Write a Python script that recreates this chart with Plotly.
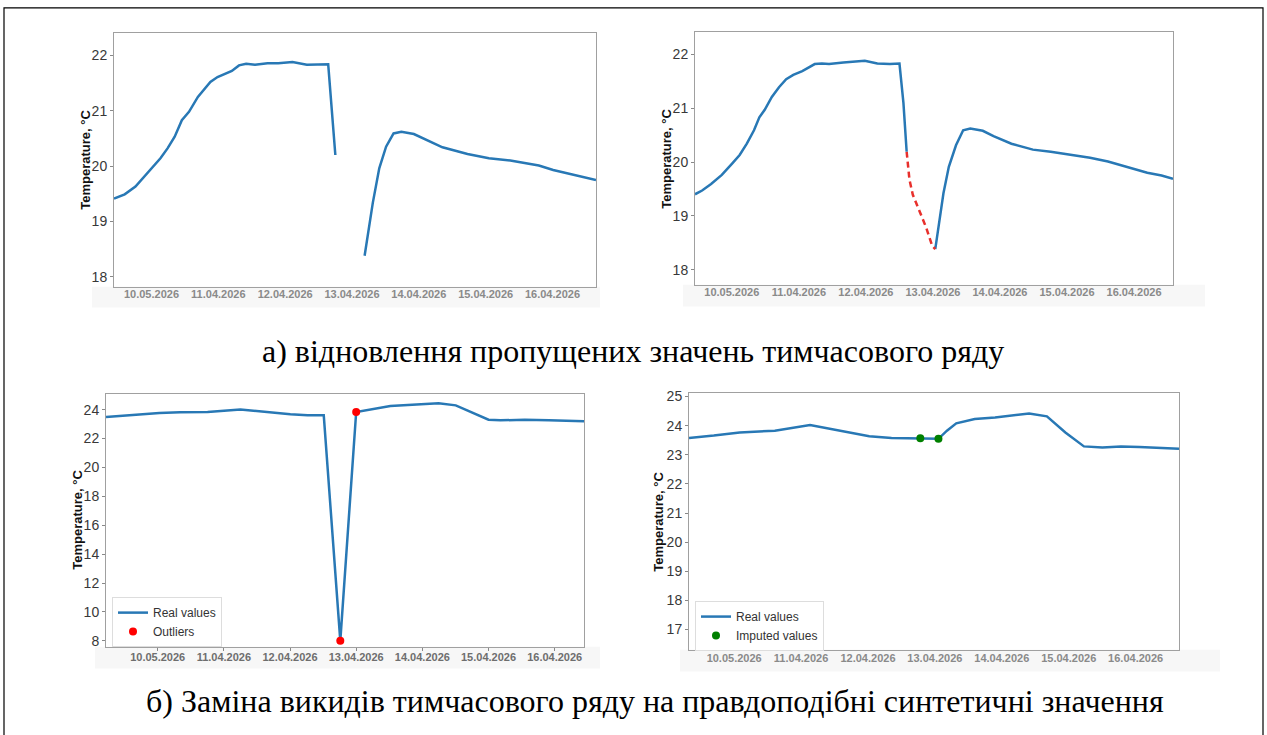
import plotly.graph_objects as go

W, H = 1267, 735

# ---------------- data ----------------
tick_days = [0, 1, 2, 3, 4, 5, 6]
tick_labels = ["10.05.2026", "11.04.2026", "12.04.2026", "13.04.2026",
               "14.04.2026", "15.04.2026", "16.04.2026"]

# a) left: series with missing values (gap = None)
gap_days = [-0.561, -0.401, -0.240, -0.080, 0.134, 0.240, 0.347, 0.454, 0.561, 0.694,
            0.881, 0.988, 1.095, 1.202, 1.309, 1.416, 1.549, 1.736, 1.896, 2.110,
            2.324, 2.484, 2.644, 2.751, None,
            3.189, 3.312, 3.408, 3.510, 3.622, 3.739, 3.926, 4.087, 4.354, 4.728,
            5.048, 5.369, 5.582, 5.796, 6.010, 6.330, 6.651]
gap_temp = [19.41, 19.49, 19.63, 19.84, 20.14, 20.32, 20.53, 20.83, 20.98, 21.25,
            21.52, 21.61, 21.66, 21.72, 21.82, 21.85, 21.83, 21.86, 21.86, 21.88,
            21.83, 21.83, 21.84, 20.20, None,
            18.38, 19.34, 19.96, 20.35, 20.59, 20.62, 20.58, 20.49, 20.34, 20.22,
            20.14, 20.10, 20.05, 20.01, 19.93, 19.84, 19.75]

# a) right: restored series
rest_days_a = [-0.549, -0.443, -0.309, -0.149, 0.011, 0.117, 0.224, 0.331, 0.411, 0.491,
               0.597, 0.704, 0.811, 0.917, 1.051, 1.131, 1.237, 1.344, 1.451, 1.664,
               1.824, 1.984, 2.171, 2.357, 2.501, 2.560, 2.608]
rest_temp_a = [19.40, 19.47, 19.59, 19.76, 19.98, 20.13, 20.34, 20.59, 20.83, 20.97,
               21.21, 21.39, 21.54, 21.62, 21.69, 21.74, 21.82, 21.83, 21.82, 21.85,
               21.86, 21.88, 21.83, 21.82, 21.83, 21.10, 20.19]
fill_days = [2.608, 2.650, 2.700, 2.790, 2.900, 2.990, 3.035]
fill_temp = [20.19, 19.67, 19.39, 19.12, 18.78, 18.44, 18.38]
rest_days_b = [3.035, 3.104, 3.157, 3.237, 3.344, 3.451, 3.557, 3.744, 3.904, 4.171,
               4.491, 4.757, 5.024, 5.344, 5.611, 5.877, 6.197, 6.411, 6.581]
rest_temp_b = [18.38, 18.93, 19.42, 19.91, 20.31, 20.59, 20.62, 20.58, 20.48, 20.34,
               20.23, 20.19, 20.14, 20.08, 20.01, 19.91, 19.80, 19.75, 19.69]

# b) left: series with outliers
out_series_days = [-0.781, -0.443, 0.026, 0.339, 0.755, 1.250, 1.641, 2.005, 2.266, 2.510,
                   2.760, 3.000, 3.516, 3.984, 4.245, 4.505, 5.000, 5.180, 5.547, 5.911, 6.443]
out_series_temp = [23.49, 23.61, 23.77, 23.82, 23.84, 24.02, 23.84, 23.68, 23.61, 23.61,
                   8.00, 23.84, 24.25, 24.37, 24.44, 24.30, 23.31, 23.26, 23.31, 23.26, 23.20]
outlier_days = [2.760, 3.000]
outlier_temp = [8.00, 23.84]

# b) right: series with imputed values
imp_series_days = [-0.675, -0.304, 0.083, 0.608, 1.134, 1.521, 1.742, 2.019, 2.351, 2.782,
                   3.053, 3.180, 3.319, 3.595, 3.899, 4.408, 4.674, 4.950, 5.227, 5.503,
                   5.780, 6.056, 6.333, 6.648]
imp_series_temp = [23.58, 23.66, 23.77, 23.83, 24.02, 23.86, 23.75, 23.64, 23.58, 23.57,
                   23.55, 23.83, 24.08, 24.23, 24.28, 24.42, 24.32, 23.77, 23.29, 23.25,
                   23.29, 23.27, 23.23, 23.21]
imputed_days = [2.782, 3.053]
imputed_temp = [23.57, 23.55]

caption_a = "а) відновлення пропущених значень тимчасового ряду"
caption_b = "б) Заміна викидів тимчасового ряду на правдоподібні синтетичні значення"
y_title = "Temperature, °C"

# ---------------- style ----------------
BLUE = "#2878b5"
SANS = "Liberation Sans, Arial, sans-serif"
SERIF = "Liberation Serif, Times New Roman, serif"


def px(x):
    return x / W


def py(y):
    return 1 - y / H


fig = go.Figure()

line_style = dict(color=BLUE, width=2.5)

fig.add_trace(go.Scatter(x=gap_days, y=gap_temp, mode="lines", line=line_style,
                         xaxis="x", yaxis="y", showlegend=False, connectgaps=False))

fig.add_trace(go.Scatter(x=rest_days_a, y=rest_temp_a, mode="lines", line=line_style,
                         xaxis="x2", yaxis="y2", showlegend=False))
fig.add_trace(go.Scatter(x=rest_days_b, y=rest_temp_b, mode="lines", line=line_style,
                         xaxis="x2", yaxis="y2", showlegend=False))
fig.add_trace(go.Scatter(x=fill_days, y=fill_temp, mode="lines",
                         line=dict(color="#e8302c", width=2.5, dash="6px,4px"),
                         xaxis="x2", yaxis="y2", showlegend=False))

fig.add_trace(go.Scatter(x=out_series_days, y=out_series_temp, mode="lines", line=line_style,
                         xaxis="x3", yaxis="y3", name="Real values", legend="legend"))
fig.add_trace(go.Scatter(x=outlier_days, y=outlier_temp, mode="markers",
                         marker=dict(color="#ff0000", size=8),
                         xaxis="x3", yaxis="y3", name="Outliers", legend="legend"))

fig.add_trace(go.Scatter(x=imp_series_days, y=imp_series_temp, mode="lines", line=line_style,
                         xaxis="x4", yaxis="y4", name="Real values", legend="legend2"))
fig.add_trace(go.Scatter(x=imputed_days, y=imputed_temp, mode="markers",
                         marker=dict(color="#008000", size=8),
                         xaxis="x4", yaxis="y4", name="Imputed values", legend="legend2"))

# panel frames in pixels: (left, right, top, bottom), x range, y range, y ticks
panels = [
    dict(l=114, r=596, t=29, b=285, xr=[-0.561, 6.651], yr=[17.82, 22.41],
         yt=[18, 19, 20, 21, 22], xticks="", xcol="#8a8a8a", so=-3),
    dict(l=695, r=1173, t=28, b=283, xr=[-0.549, 6.581], yr=[17.72, 22.42],
         yt=[18, 19, 20, 21, 22], xticks="", xcol="#8a8a8a", so=-3),
    dict(l=106, r=584, t=393, b=648, xr=[-0.781, 6.443], yr=[7.59, 25.10],
         yt=[8, 10, 12, 14, 16, 18, 20, 22, 24], xticks="outside", xcol="#6e6e6e", so=-3),
    dict(l=689, r=1179, t=392, b=651, xr=[-0.675, 6.648], yr=[16.31, 25.13],
         yt=[17, 18, 19, 20, 21, 22, 23, 24, 25], xticks="", xcol="#8a8a8a", so=-2),
]

layout = {}
for i, p in enumerate(panels, start=1):
    sx = "" if i == 1 else str(i)
    layout["xaxis" + sx] = dict(
        domain=[px(p["l"]), px(p["r"])], range=p["xr"], anchor="y" + sx,
        tickmode="array", tickvals=tick_days, ticktext=tick_labels,
        showline=True, mirror=True, linecolor="#a0a0a0", linewidth=1,
        showgrid=False, zeroline=False, ticks=p["xticks"], ticklen=3, tickcolor="#888",
        ticklabelstandoff=p["so"],
        tickfont=dict(family=SANS, size=11, color=p["xcol"], weight="bold"),
    )
    layout["yaxis" + sx] = dict(
        domain=[py(p["b"]), py(p["t"])], range=p["yr"], anchor="x" + sx,
        tickmode="array", tickvals=p["yt"],
        showline=True, mirror=True, linecolor="#a0a0a0", linewidth=1,
        showgrid=False, zeroline=False, ticks="outside", ticklen=3, tickcolor="#888",
        tickfont=dict(family=SANS, size=14, color="#383838"),
    )

# y-axis titles (centre positions in pixels)
ytitles = [(86, 157), (667, 156), (78, 520), (659, 522)]
annotations = []
for (cx, cy) in ytitles:
    annotations.append(dict(x=px(cx), y=py(cy), xref="paper", yref="paper",
                            text=y_title, textangle=-90, showarrow=False,
                            xanchor="center", yanchor="middle",
                            font=dict(family=SANS, size=13, color="#111", weight="bold")))

annotations.append(dict(x=px(633), y=py(350), xref="paper", yref="paper", text=caption_a,
                        showarrow=False, xanchor="center", yanchor="middle",
                        font=dict(family=SERIF, size=32, color="#000")))
annotations.append(dict(x=px(655), y=py(703), xref="paper", yref="paper", text=caption_b,
                        showarrow=False, xanchor="center", yanchor="middle",
                        font=dict(family=SERIF, size=32, color="#000")))

# light strips behind the date labels
strips = [(92, 600, 285, 306), (683, 1205, 283, 305), (95, 600, 648, 670), (680, 1220, 651, 673)]
shapes = []
for (x0, x1, y0, y1) in strips:
    shapes.append(dict(type="rect", xref="paper", yref="paper", layer="below",
                       x0=px(x0), x1=px(x1), y0=py(y1), y1=py(y0),
                       fillcolor="#f7f7f7", line=dict(width=0)))
# outer border
shapes.append(dict(type="rect", xref="paper", yref="paper",
                   x0=px(4), x1=px(1263), y0=-0.05, y1=py(4),
                   line=dict(color="#000", width=1.2)))

legend_common = dict(bgcolor="rgba(255,255,255,0.9)", bordercolor="#dddddd", borderwidth=1,
                     font=dict(family=SANS, size=12, color="#333"),
                     xanchor="left", yanchor="top", itemwidth=30, tracegroupgap=0)

fig.update_layout(
    width=W, height=H, margin=dict(l=0, r=0, t=0, b=0),
    paper_bgcolor="white", plot_bgcolor="white",
    annotations=annotations, shapes=shapes,
    legend=dict(x=px(112), y=py(598), **legend_common),
    legend2=dict(x=px(695), y=py(602), **legend_common),
    **layout,
)

fig.write_html("out.html")
